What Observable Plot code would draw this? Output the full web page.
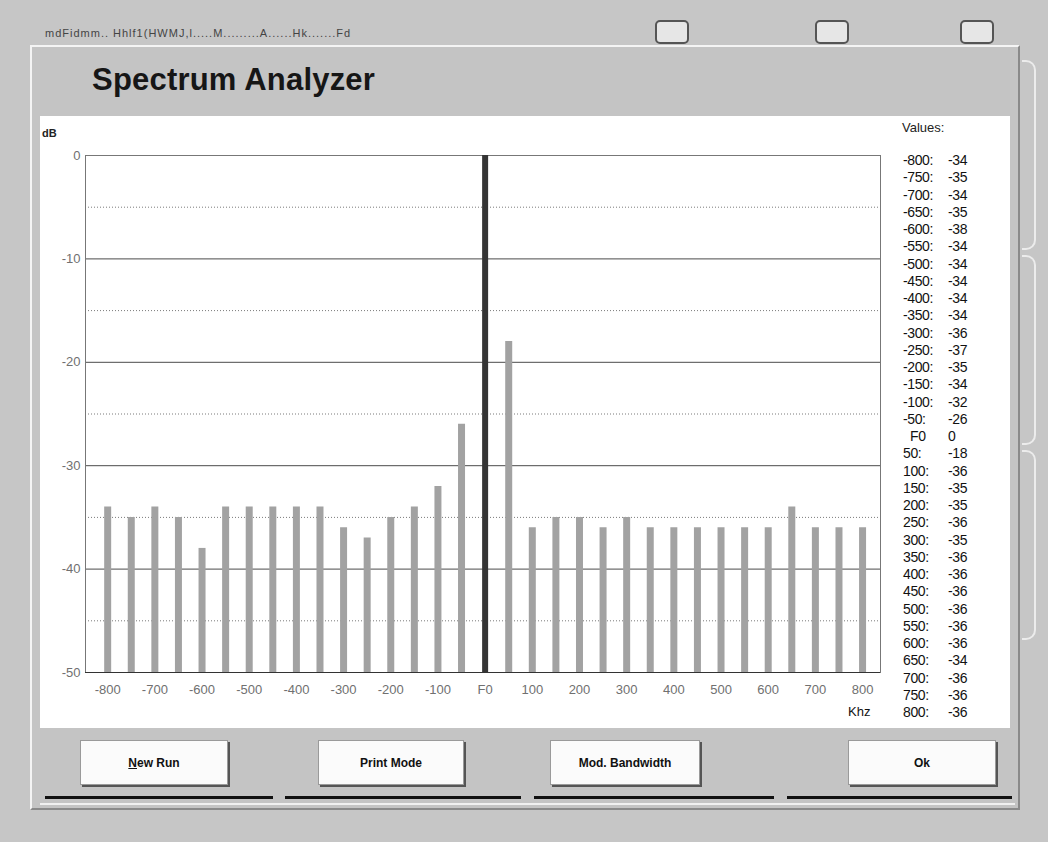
<!DOCTYPE html>
<html>
<head>
<meta charset="utf-8">
<script src="https://cdn.jsdelivr.net/npm/d3@7"></script>
<script src="https://cdn.jsdelivr.net/npm/@observablehq/plot@0.6"></script>
<style>
  html, body { margin: 0; padding: 0; background: #c9c9c9; }
  #page { position: relative; width: 1048px; height: 842px; overflow: hidden; background: #c6c6c6; font-family: "Liberation Sans", Arial, sans-serif; }
  .abs { position: absolute; }
  #dialog { left: 30px; top: 45px; width: 990px; height: 765px; border-top: 2px solid #f4f4f4; border-left: 2px solid #f4f4f4; border-right: 2px solid #8a8a8a; border-bottom: 2px solid #8a8a8a; box-sizing: border-box; background: #c4c4c4; }
  #panel { left: 40px; top: 116px; width: 970px; height: 612px; background: #fff; }
  #title { left: 92px; top: 62px; font-size: 31px; font-weight: bold; color: #161616; letter-spacing: 0.2px; }
  #db { left: 42px; top: 127px; font-size: 11px; font-weight: bold; color: #222; }
  #khz { left: 848px; top: 704px; font-size: 13px; color: #111; }
  #valtitle { left: 902px; top: 120px; font-size: 13px; color: #222; }
  #values { left: 903px; top: 152px; font-size: 14px; color: #111; line-height: 17.25px; letter-spacing: -0.4px; }
  #values .row { display: flex; }
  #values .lab { width: 45px; }
  .btn { height: 45px; top: 740px; background: #fbfbfb; border: 1px solid #9a9a9a; box-shadow: 2px 2px 0 #555; box-sizing: border-box; display: flex; align-items: center; justify-content: center; font-size: 12px; font-weight: bold; color: #111; }
  .sep { top: 796px; height: 3px; background: #111; }
  .sepw { top: 803px; height: 2px; background: #f0f0f0; }
  .box { top: 20px; width: 34px; height: 24px; background: #e6e6e6; border: 2px solid #555; border-radius: 5px; box-sizing: border-box; }
  .brk { left: 1022px; width: 14px; border: 2px solid #ececec; border-left: none; border-radius: 0 10px 10px 0; box-sizing: border-box; }
  #chart { left: 0; top: 0; }
</style>
</head>
<body>
<div id="page">
  <div class="abs box" style="left:655px"></div>
  <div class="abs box" style="left:815px"></div>
  <div class="abs box" style="left:960px"></div>
  <div class="abs" style="left:45px;top:27px;font-size:11px;color:#444;letter-spacing:1px;">mdFidmm.. Hhlf1(HWMJ,l.....M.........A......Hk.......Fd</div>
  <div class="abs brk" style="top:60px;height:190px"></div>
  <div class="abs brk" style="top:255px;height:190px"></div>
  <div class="abs brk" style="top:450px;height:190px"></div>
  <div id="dialog" class="abs"></div>
  <div id="panel" class="abs"></div>
  <div id="title" class="abs">Spectrum Analyzer</div>
  <div id="chart" class="abs"></div>
  <div id="db" class="abs">dB</div>
  <div id="khz" class="abs">Khz</div>
  <div id="valtitle" class="abs">Values:</div>
  <div id="values" class="abs"></div>
  <div class="abs btn" style="left:80px;width:148px"><span><u>N</u>ew Run</span></div>
  <div class="abs btn" style="left:318px;width:146px">Print Mode</div>
  <div class="abs btn" style="left:550px;width:150px">Mod. Bandwidth</div>
  <div class="abs btn" style="left:848px;width:148px">Ok</div>
  <div class="abs sep" style="left:45px;width:228px"></div>
  <div class="abs sep" style="left:285px;width:236px"></div>
  <div class="abs sep" style="left:534px;width:240px"></div>
  <div class="abs sep" style="left:787px;width:225px"></div>
  <div class="abs sepw" style="left:40px;width:975px"></div>
</div>
<script>
// Data
const freqs = [-800,-750,-700,-650,-600,-550,-500,-450,-400,-350,-300,-250,-200,-150,-100,-50,0,50,100,150,200,250,300,350,400,450,500,550,600,650,700,750,800];
const levels = [-34,-35,-34,-35,-38,-34,-34,-34,-34,-34,-36,-37,-35,-34,-32,-26,0,-18,-36,-35,-35,-36,-35,-36,-36,-36,-36,-36,-36,-34,-36,-36,-36];
const xTickValues = [-800,-700,-600,-500,-400,-300,-200,-100,0,100,200,300,400,500,600,700,800];
const yTickValues = [0,-10,-20,-30,-40,-50];
const yMajorGrid = [-10,-20,-30,-40];
const yMinorGrid = [-5,-15,-25,-35,-45];

const data = freqs.map((f, i) => ({f, db: levels[i]}));
const sidebands = data.filter(d => d.f !== 0);
const carrier = data.filter(d => d.f === 0);
const fmtX = v => v === 0 ? "F0" : String(v);
const fmtY = v => String(v);

const chart = Plot.plot({
  width: 1048,
  height: 842,
  marginLeft: 85,
  marginRight: 168,
  marginTop: 155,
  marginBottom: 170,
  style: {background: "transparent", fontFamily: "'Liberation Sans',sans-serif"},
  x: {type: "linear", domain: [-847, 838]},
  y: {domain: [-50, 0]},
  marks: [
    Plot.ruleY(yMinorGrid, {stroke: "#7a7a7a", strokeDasharray: "1,2"}),
    Plot.ruleY(yMajorGrid, {stroke: "#4a4a4a"}),
    Plot.ruleY([0], {stroke: "#555", strokeDasharray: "2,1"}),
    Plot.frame({stroke: "#777"}),
    Plot.ruleY([-50], {stroke: "#333"}),
    Plot.ruleX(sidebands, {x: "f", y1: -50, y2: "db", stroke: "#a2a2a2", strokeWidth: 7}),
    Plot.ruleX(carrier, {x: "f", y1: -50, y2: "db", stroke: "#353535", strokeWidth: 6}),
    Plot.axisY(yTickValues, {tickSize: 0, tickPadding: 5, fill: "#707070", fontSize: 13, tickFormat: fmtY, label: null}),
    Plot.axisX(xTickValues, {tickSize: 0, tickPadding: 12, fill: "#707070", fontSize: 13, tickFormat: fmtX, label: null})
  ]
});
document.getElementById("chart").appendChild(chart);

const vals = document.getElementById("values");
data.forEach(d => {
  const row = document.createElement("div");
  row.className = "row";
  const lab = document.createElement("span");
  lab.className = "lab";
  lab.textContent = d.f === 0 ? "\u00a0\u00a0F0" : d.f + ":";
  const v = document.createElement("span");
  v.textContent = String(d.db);
  row.appendChild(lab); row.appendChild(v);
  vals.appendChild(row);
});
</script>
</body>
</html>
